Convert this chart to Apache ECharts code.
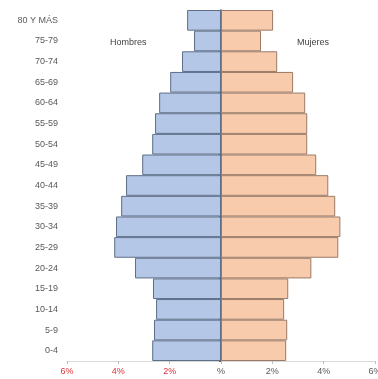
<!DOCTYPE html>
<html>
<head>
<meta charset="utf-8">
<script src="https://cdn.jsdelivr.net/npm/echarts@6/dist/echarts.min.js"></script>
<style>
  html, body { margin: 0; padding: 0; background: #ffffff; overflow: hidden; }
  #chart { width: 378px; height: 379px; }
</style>
</head>
<body>
<div id="chart"></div>
<script>
// Age groups, from oldest (top) to youngest (bottom)
var ageGroups = ['80 Y MÁS', '75-79', '70-74', '65-69', '60-64', '55-59', '50-54', '45-49',
  '40-44', '35-39', '30-34', '25-29', '20-24', '15-19', '10-14', '5-9', '0-4'];

// Share of total population (%), men drawn to the left
var hombres = [1.32, 1.05, 1.52, 1.98, 2.41, 2.57, 2.68, 3.07, 3.70, 3.89, 4.09, 4.16, 3.35, 2.65, 2.53, 2.61, 2.68];
var mujeres = [2.03, 1.56, 2.19, 2.81, 3.28, 3.36, 3.36, 3.71, 4.18, 4.45, 4.65, 4.57, 3.52, 2.62, 2.46, 2.58, 2.54];

var xTicks = [-6, -4, -2, 0, 2, 4, 6];

var chart = echarts.init(document.getElementById('chart'), null, { renderer: 'canvas', width: 378, height: 379 });

var fontFam = '"Liberation Sans", Arial, sans-serif';

chart.setOption({
  animation: false,
  backgroundColor: '#ffffff',
  grid: { left: 67, right: 3, top: 10, bottom: 18, containLabel: false, outerBoundsMode: 'none' },
  xAxis: {
    type: 'value',
    min: xTicks[0],
    max: xTicks[xTicks.length - 1],
    interval: 2,
    splitLine: { show: false },
    axisLine: { show: true, onZero: false, lineStyle: { color: '#d9d9d9', width: 1 } },
    axisTick: { show: true, length: 3, lineStyle: { color: '#bfbfbf' } },
    axisLabel: {
      fontFamily: fontFam,
      fontSize: 9,
      margin: 6,
      hideOverlap: false,
      color: function (v) { return v < 0 ? '#e0303a' : '#595959'; },
      formatter: function (v) { return v === 0 ? '%' : Math.abs(v) + '%'; }
    }
  },
  yAxis: [
    {
      type: 'category',
      data: ageGroups,
      inverse: true,
      position: 'left',
      axisLine: { show: false, onZero: false },
      axisTick: { show: false },
      axisLabel: { fontFamily: fontFam, fontSize: 9, color: '#595959', margin: 9 }
    },
    {
      type: 'category',
      data: ageGroups,
      inverse: true,
      axisLine: { show: true, onZero: true, lineStyle: { color: '#404040', width: 1.5 } },
      axisTick: { show: true, inside: true, length: 2, lineStyle: { color: '#595959' } },
      axisLabel: { show: false }
    }
  ],
  series: [
    {
      name: 'Hombres',
      type: 'bar',
      stack: 'pop',
      yAxisIndex: 0,
      barCategoryGap: '0%',
      data: hombres.map(function (v) { return -v; }),
      itemStyle: { color: '#b4c7e7', borderColor: '#5d6e88', borderWidth: 1 }
    },
    {
      name: 'Mujeres',
      type: 'bar',
      stack: 'pop',
      yAxisIndex: 0,
      barCategoryGap: '0%',
      data: mujeres,
      itemStyle: { color: '#f8cbad', borderColor: '#9a7a66', borderWidth: 1 }
    }
  ],
  graphic: [
    { type: 'text', left: 110, top: 38, style: { text: 'Hombres', font: '9px ' + fontFam, fill: '#404040' } },
    { type: 'text', left: 297, top: 38, style: { text: 'Mujeres', font: '9px ' + fontFam, fill: '#404040' } }
  ]
});
</script>
</body>
</html>
